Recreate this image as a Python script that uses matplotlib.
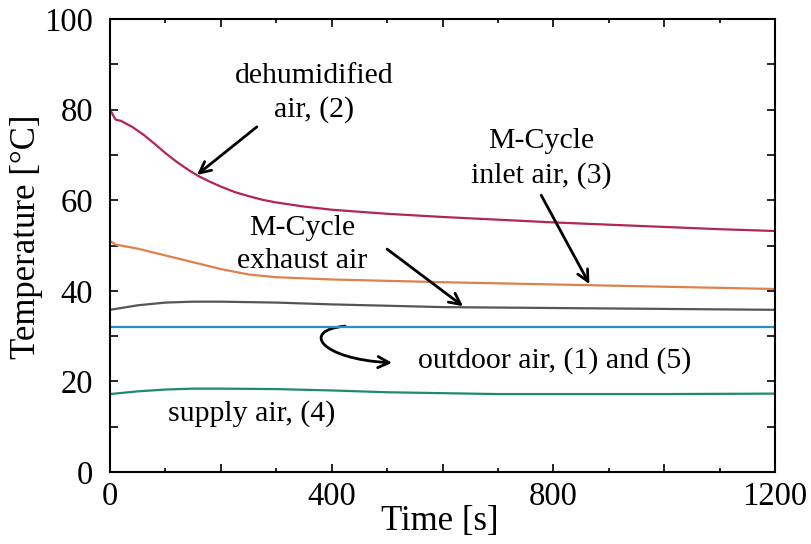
import numpy as np
import matplotlib.pyplot as plt
from matplotlib.ticker import MultipleLocator, FuncFormatter
from matplotlib.patches import FancyArrowPatch
from matplotlib.path import Path

plt.rcParams['font.family'] = ['Liberation Serif', 'DejaVu Serif']

# dehumidified air, (2)
t_dehum = [0, 10, 20, 40, 60, 80, 100, 120, 140, 160, 180, 200, 225, 250, 275, 300, 350, 400, 500, 600, 700, 800, 900, 1000, 1100, 1200]
T_dehum = [80, 77.8, 77.5, 76.2, 74.5, 72.5, 70.4, 68.5, 66.8, 65.3, 64.1, 63.0, 61.8, 60.9, 60.1, 59.5, 58.6, 57.9, 57.0, 56.3, 55.7, 55.1, 54.6, 54.1, 53.6, 53.2]

# M-Cycle inlet air, (3)
t_inlet = [0, 10, 20, 50, 100, 150, 200, 250, 300, 400, 500, 600, 800, 1000, 1200]
T_inlet = [51.0, 50.2, 50.0, 49.3, 47.8, 46.3, 44.8, 43.6, 43.0, 42.5, 42.2, 41.9, 41.4, 40.9, 40.4]

# M-Cycle exhaust air
t_exh = [0, 50, 100, 150, 200, 300, 400, 500, 600, 800, 1000, 1200]
T_exh = [35.8, 36.8, 37.4, 37.6, 37.6, 37.4, 37.0, 36.7, 36.4, 36.2, 36.0, 35.8]

# outdoor air, (1) and (5)
t_out = [0, 1200]
T_out = [32.0, 32.0]

# supply air, (4)
t_sup = [0, 50, 100, 150, 200, 300, 400, 500, 600, 700, 800, 1000, 1200]
T_sup = [17.2, 17.8, 18.2, 18.4, 18.4, 18.3, 18.0, 17.6, 17.4, 17.2, 17.2, 17.2, 17.3]

fig = plt.figure(figsize=(8.12, 5.44), dpi=100)
ax = fig.add_axes([0.1355, 0.1324, 0.819, 0.8326])

ax.plot(t_dehum, T_dehum, color='#b3245a', lw=1.6)
ax.plot(t_inlet, T_inlet, color='#e0804f', lw=1.6)
ax.plot(t_exh, T_exh, color='#555555', lw=1.6)
ax.plot(t_out, T_out, color='#2a8fc4', lw=1.6)
ax.plot(t_sup, T_sup, color='#1f8a70', lw=1.6)

ax.set_xlim(0, 1200)
ax.set_ylim(0, 100)

ax.xaxis.set_major_locator(MultipleLocator(200))
ax.xaxis.set_minor_locator(MultipleLocator(100))
ax.yaxis.set_major_locator(MultipleLocator(10))
ax.xaxis.set_major_formatter(FuncFormatter(lambda v, p: '%d' % v if v % 400 == 0 else ''))
ax.yaxis.set_major_formatter(FuncFormatter(lambda v, p: '%d' % v if v % 20 == 0 else ''))
ax.tick_params(which='both', direction='in', top=True, right=True, labelsize=23.5, width=1.2)
ax.tick_params(which='major', length=6)
ax.tick_params(which='minor', length=3)
ax.tick_params(axis='x', pad=7)
ax.tick_params(axis='y', pad=12)
for s in ax.spines.values():
    s.set_linewidth(1.5)

ax.set_xlabel('Time [s]', fontsize=25, va='center')
ax.set_ylabel('Temperature [°C]', fontsize=25, va='center')
ax.xaxis.set_label_coords(0.496, -0.11)
ax.yaxis.set_label_coords(-0.125, 0.52)

fs = 21.5
ls = 1.35
akw = dict(arrowstyle='->', lw=2, color='black', mutation_scale=20, shrinkA=0, shrinkB=0)

ax.text(368, 83.7, 'dehumidified\nair, (2)', ha='center', va='center', fontsize=fs, linespacing=ls)
ax.annotate('', xy=(157, 65.6), xytext=(265, 76.2), arrowprops=dict(akw))

ax.text(778, 69.2, 'M-Cycle\ninlet air, (3)', ha='center', va='center', fontsize=fs, linespacing=ls)
ax.annotate('', xy=(865, 41.5), xytext=(778, 61.1), arrowprops=dict(akw))

ax.text(347, 50.2, 'M-Cycle\nexhaust air', ha='center', va='center', fontsize=fs, linespacing=ls)
ax.annotate('', xy=(637, 36.6), xytext=(500, 49.2), arrowprops=dict(akw))

hook = Path([(424.2, 32.2), (343.1, 31.3), (379.1, 24.9), (509.0, 24.1)],
            [Path.MOVETO, Path.CURVE4, Path.CURVE4, Path.CURVE4])
ax.add_patch(FancyArrowPatch(path=hook, arrowstyle='->', lw=2, color='black',
                             mutation_scale=20, transform=ax.transData))
ax.text(803, 24.7, 'outdoor air, (1) and (5)', ha='center', va='center', fontsize=fs)
ax.text(255, 12.8, 'supply air, (4)', ha='center', va='center', fontsize=fs)

fig.savefig('out.png', dpi=100)
